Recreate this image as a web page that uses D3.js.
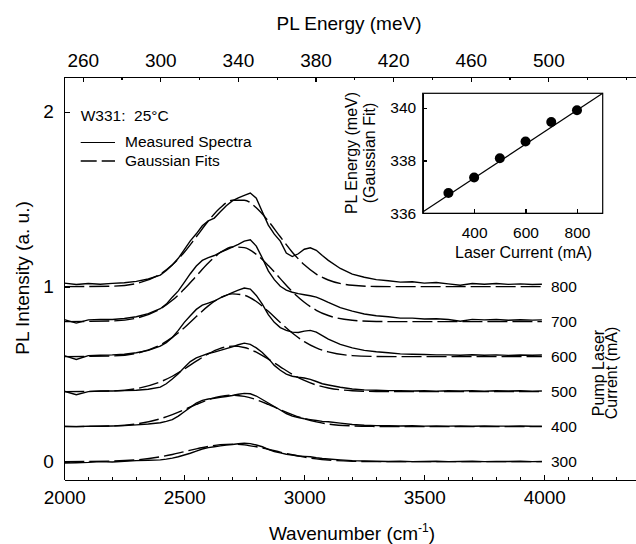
<!DOCTYPE html>
<html>
<meta charset="utf-8">
<style>
body { margin: 0; background: #fff; }
svg { display: block; font-family: "Liberation Sans", Arial, sans-serif; }
.axis path, .axis line { fill: none; stroke: #000; stroke-width: 1.2; shape-rendering: crispEdges; }
.axis text { font-size: 19px; fill: #000; font-family: "Liberation Sans", Arial, sans-serif; }
.inset .axis text { font-size: 15.5px; }
.spec { fill: none; stroke: #000; stroke-width: 1.4; }
.fit { fill: none; stroke: #000; stroke-width: 1.4; stroke-dasharray: 20,5; }
</style>
<body>
<script src="https://d3js.org/d3.v7.min.js"></script>
<script>
// measured spectra, relative to each trace's offset
var waveGrid = [2000,2050,2100,2150,2200,2250,2300,2350,2400,2425,2450,2475,2500,2525,2550,2575,2600,2625,2650,2675,2700,2725,2750,2775,2800,2825,2850,2875,2900,2925,2950,2975,3000,3025,3050,3075,3100,3150,3200,3250,3300,3350,3400,3450,3500,3550,3600,3650,3700,3750,3800,3850,3900,3950,3990];
var spec800 = [.020,.012,.018,.014,.019,.022,.030,.044,.066,.092,.124,.162,.212,.262,.302,.348,.376,.392,.428,.462,.490,.508,.522,.535,.506,.428,.352,.300,.260,.192,.172,.188,.214,.222,.208,.178,.150,.104,.072,.054,.040,.034,.026,.028,.020,.024,.016,.008,.018,.014,.018,.013,.016,.012,.014];
var spec700 = [.012,-.008,.010,.012,.012,.018,.028,.046,.074,.100,.140,.176,.224,.274,.318,.350,.366,.378,.396,.410,.426,.442,.460,.468,.432,.364,.290,.240,.202,.180,.168,.160,.154,.148,.140,.126,.110,.080,.060,.044,.034,.028,.020,.020,.015,.017,.012,.002,.013,.010,.012,.008,.011,.009,.010];
var spec600 = [.006,-.016,.006,.008,.010,.014,.022,.036,.060,.080,.110,.150,.196,.234,.270,.294,.306,.318,.336,.350,.366,.380,.392,.386,.350,.300,.240,.196,.166,.150,.140,.138,.146,.150,.140,.120,.100,.070,.050,.036,.028,.022,.016,.014,.012,.010,.010,.008,.011,.008,.010,.007,.009,.008,.009];
var spec500 = [.002,-.018,.000,.004,.004,.006,.008,.014,.026,.045,.072,.102,.138,.172,.193,.206,.218,.226,.236,.246,.256,.268,.277,.270,.250,.224,.190,.150,.122,.100,.088,.082,.078,.070,.058,.045,.038,.025,.015,.010,.008,.006,.006,.004,.005,.003,.005,.004,.006,.003,.005,.004,.005,.003,.004];
var spec400 = [.002,.000,.003,.002,.004,.006,.010,.015,.022,.030,.040,.060,.085,.110,.135,.150,.158,.162,.168,.172,.178,.185,.190,.188,.175,.155,.135,.115,.095,.075,.060,.052,.045,.040,.035,.030,.028,.020,.012,.008,.006,.005,.004,.005,.003,.004,.003,.004,.002,.004,.003,.003,.004,.002,.003];
var spec300 = [-.008,-.006,-.004,.000,-.002,.002,.006,.008,.010,.014,.020,.028,.038,.048,.060,.072,.080,.085,.090,.095,.098,.102,.105,.103,.095,.085,.070,.058,.050,.042,.038,.032,.030,.028,.022,.018,.015,.010,.006,.004,.002,.001,.002,.000,.001,.002,.000,.001,.002,.000,.001,.001,.002,.000,.001];

// gaussian fits (dashed)
var fitGrid = [2000,2200,2300,2400,2450,2500,2550,2600,2650,2700,2750,2800,2850,2900,2950,3000,3050,3100,3200,3300,3400,3600,3990];
var fit800 = [0,.003,.018,.072,.125,.197,.285,.375,.451,.494,.494,.451,.375,.285,.197,.125,.072,.038,.008,.001,0,0,0];
var fit700 = [0,.004,.020,.073,.122,.186,.261,.335,.395,.427,.423,.385,.321,.246,.172,.111,.065,.035,.008,.001,0,0,0];
var fit600 = [0,.004,.019,.067,.110,.165,.229,.290,.337,.359,.351,.315,.259,.195,.135,.086,.050,.027,.006,.001,0,0,0];
var fit500 = [0,.004,.017,.056,.088,.129,.174,.216,.247,.260,.252,.226,.186,.142,.099,.064,.038,.021,.005,.001,0,0,0];
var fit400 = [0,.004,.015,.045,.069,.097,.127,.154,.173,.180,.173,.154,.127,.097,.069,.045,.027,.015,.004,.001,0,0,0];
var fit300 = [0,.003,.010,.028,.041,.057,.073,.087,.097,.100,.096,.085,.071,.054,.039,.026,.016,.009,.002,0,0,0,0];

var currents = [300, 400, 500, 600, 700, 800];
var offsets = [0, 0.2, 0.4, 0.6, 0.8, 1.0];

// inset: peak energy vs laser current
var insetCurrent = [300, 400, 500, 600, 700, 800];
var insetEnergy = [336.77, 337.36, 338.09, 338.72, 339.46, 339.91];
var insetLineCurrent = [200, 900];
var insetLineEnergy = [336.05, 340.55];

var xMajor = [2000, 2500, 3000, 3500, 4000];
var yMajor = [0, 1, 2];
var eMajor = [260, 300, 340, 380, 420, 460, 500];
var insetXTicks = [400, 600, 800];
var insetYTicks = [336, 338, 340];

var margin = {top: 76.7, left: 64.3},
    width = 576,
    height = 403.3;

var svg = d3.select("body").append("svg")
    .attr("width", 636)
    .attr("height", 544);

var g = svg.append("g")
    .attr("transform", "translate(" + margin.left + "," + margin.top + ")");

var x = d3.scaleLinear().domain([2000, 4400]).range([0, width]),
    y = d3.scaleLinear().domain([-0.105, 2.2]).range([height, 0]),
    e = d3.scaleLinear().domain([250.5, 547.4]).range([0, width]);

// bottom axis, minor then major
g.append("g")
    .attr("class", "axis")
    .attr("transform", "translate(0," + height + ")")
    .call(d3.axisBottom(x).tickValues(d3.range(2000, 4401, 100)).tickSizeInner(-3).tickSizeOuter(0).tickFormat(""));
g.append("g")
    .attr("class", "axis")
    .attr("transform", "translate(0," + height + ")")
    .call(d3.axisBottom(x).tickValues(xMajor).tickSizeInner(-5.5).tickSizeOuter(0).tickPadding(11).tickFormat(d3.format("d")));

// top axis (energy)
g.append("g")
    .attr("class", "axis")
    .call(d3.axisTop(e).tickValues(d3.range(260, 541, 20)).tickSizeInner(-3.5).tickSizeOuter(0).tickFormat(""));
g.append("g")
    .attr("class", "axis")
    .call(d3.axisTop(e).tickValues(eMajor).tickSizeInner(-5).tickSizeOuter(0).tickPadding(10).tickFormat(d3.format("d")));

// left axis
g.append("g")
    .attr("class", "axis")
    .call(d3.axisLeft(y).tickValues(yMajor).tickSizeInner(-5.5).tickSizeOuter(0).tickPadding(10.5).tickFormat(d3.format("d")));

// axis titles
svg.append("text")
    .attr("x", 349).attr("y", 30)
    .attr("text-anchor", "middle")
    .style("font-size", "19px")
    .text("PL Energy (meV)");

var xt = svg.append("text")
    .attr("x", 352).attr("y", 540)
    .attr("text-anchor", "middle")
    .style("font-size", "19px");
xt.append("tspan").text("Wavenumber (cm");
xt.append("tspan").attr("dy", -8).style("font-size", "12px").text("-1");
xt.append("tspan").attr("dy", 8).text(")");

svg.append("text")
    .attr("transform", "translate(22,278) rotate(-90)")
    .attr("text-anchor", "middle")
    .attr("dy", "0.35em")
    .style("font-size", "19px")
    .text("PL Intensity (a. u.)");

// spectra
var specs = [spec300, spec400, spec500, spec600, spec700, spec800],
    fits = [fit300, fit400, fit500, fit600, fit700, fit800];

var specLine = d3.line()
    .x(function(d) { return x(d[0]); })
    .y(function(d) { return y(d[1]); });

var fitLine = d3.line()
    .curve(d3.curveMonotoneX)
    .x(function(d) { return x(d[0]); })
    .y(function(d) { return y(d[1]); });

specs.forEach(function(s, k) {
  g.append("path")
      .attr("class", "fit")
      .attr("d", fitLine(fits[k].map(function(v, i) { return [fitGrid[i], v + offsets[k]]; })));
  g.append("path")
      .attr("class", "spec")
      .attr("d", specLine(s.map(function(v, i) { return [waveGrid[i], v + offsets[k]]; })));
  g.append("text")
      .attr("x", x(waveGrid[waveGrid.length - 1]) + 9)
      .attr("y", y(offsets[k]))
      .attr("dy", "0.35em")
      .style("font-size", "15.5px")
      .text(currents[k]);
});

// right-side label
svg.append("text")
    .attr("transform", "translate(598,373) rotate(-90)")
    .attr("text-anchor", "middle")
    .attr("dy", "0.35em")
    .style("font-size", "16px")
    .text("Pump Laser");
svg.append("text")
    .attr("transform", "translate(611,373) rotate(-90)")
    .attr("text-anchor", "middle")
    .attr("dy", "0.35em")
    .style("font-size", "16px")
    .text("Current (mA)");

// legend
svg.append("text")
    .attr("x", 80.7).attr("y", 120.5)
    .style("font-size", "15.5px")
    .style("white-space", "pre")
    .text("W331:  25°C");
svg.append("line")
    .attr("x1", 80.7).attr("x2", 115).attr("y1", 142.5).attr("y2", 142.5)
    .attr("stroke", "#000").attr("stroke-width", 1.2);
svg.append("text")
    .attr("x", 125).attr("y", 147)
    .style("font-size", "15.5px")
    .text("Measured Spectra");
svg.append("line")
    .attr("x1", 80.7).attr("x2", 115).attr("y1", 161).attr("y2", 161)
    .attr("stroke", "#000").attr("stroke-width", 1.6)
    .attr("stroke-dasharray", "16,5");
svg.append("text")
    .attr("x", 125).attr("y", 165.5)
    .style("font-size", "15.5px")
    .text("Gaussian Fits");

// inset
var iw = 180, ih = 120;
var inset = svg.append("g")
    .attr("class", "inset")
    .attr("transform", "translate(422.7,93.3)");

var ix = d3.scaleLinear().domain([200, 900]).range([0, iw]),
    iy = d3.scaleLinear().domain([336, 340.55]).range([ih, 0]);

inset.append("rect")
    .attr("width", iw).attr("height", ih)
    .attr("fill", "#fff")
    .attr("stroke", "#000")
    .attr("stroke-width", 1.2);

inset.append("g")
    .attr("class", "axis")
    .attr("transform", "translate(0," + ih + ")")
    .call(d3.axisBottom(ix).tickValues(insetXTicks).tickSizeInner(-4).tickSizeOuter(0).tickPadding(14).tickFormat(d3.format("d")));
inset.append("g")
    .attr("class", "axis")
    .call(d3.axisLeft(iy).tickValues(insetYTicks).tickSizeInner(-4).tickSizeOuter(0).tickPadding(6.5).tickFormat(d3.format("d")));

inset.append("path")
    .attr("fill", "none").attr("stroke", "#000").attr("stroke-width", 1.2)
    .attr("d", d3.line()
      .x(function(d) { return ix(d[0]); })
      .y(function(d) { return iy(d[1]); })(insetLineCurrent.map(function(c, i) { return [c, insetLineEnergy[i]]; })));

inset.selectAll(".pt")
    .data(insetCurrent)
  .enter().append("circle")
    .attr("class", "pt")
    .attr("r", 5)
    .attr("cx", function(d) { return ix(d); })
    .attr("cy", function(d, i) { return iy(insetEnergy[i]); })
    .attr("fill", "#000");

svg.append("text")
    .attr("x", 523.5).attr("y", 257.5)
    .attr("text-anchor", "middle")
    .style("font-size", "16px")
    .text("Laser Current (mA)");
svg.append("text")
    .attr("transform", "translate(351,153) rotate(-90)")
    .attr("text-anchor", "middle")
    .attr("dy", "0.35em")
    .style("font-size", "16px")
    .text("PL Energy (meV)");
svg.append("text")
    .attr("transform", "translate(369,153) rotate(-90)")
    .attr("text-anchor", "middle")
    .attr("dy", "0.35em")
    .style("font-size", "16px")
    .text("(Gaussian Fit)");
</script>
</body>
</html>
